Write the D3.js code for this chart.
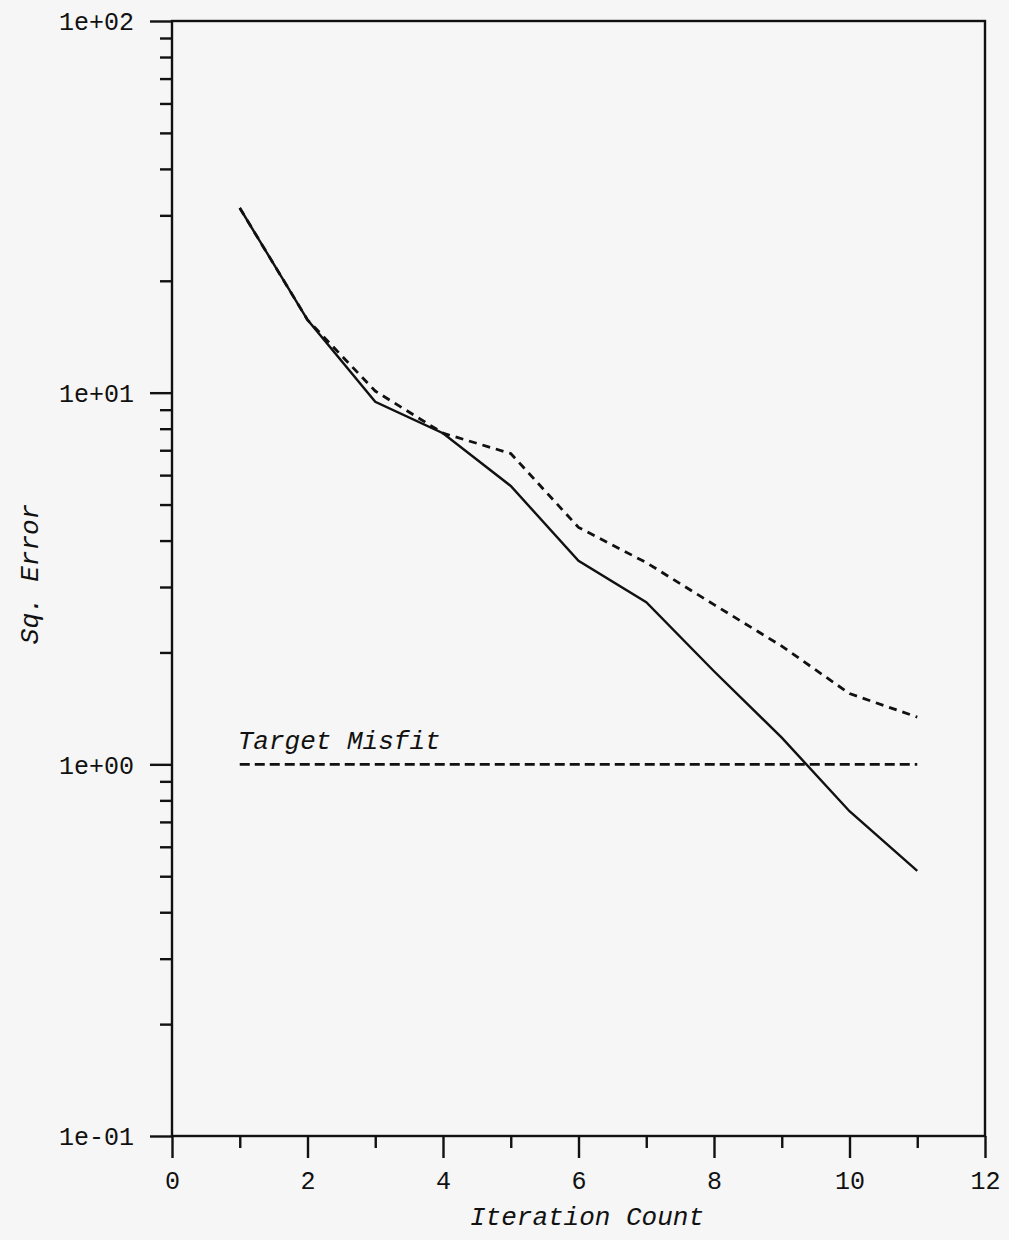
<!DOCTYPE html>
<html>
<head>
<meta charset="utf-8">
<script src="https://cdn.jsdelivr.net/npm/d3@7"></script>
<style>
  body { margin: 0; background: #f5f6f5; }
  svg text { font-family: "Liberation Mono", "Courier New", monospace; fill: #111; }
</style>
</head>
<body>
<div id="chart"></div>
<script>
// data
const iterations = [1, 2, 3, 4, 5, 6, 7, 8, 9, 10, 11];
const solidError = [31.4, 15.7, 9.45, 7.78, 5.61, 3.53, 2.73, 1.78, 1.18, 0.748, 0.517];
const dashedError = [31.4, 15.7, 10.1, 7.78, 6.86, 4.34, 3.49, 2.69, 2.08, 1.55, 1.34];
const targetMisfit = 1;
const targetRange = [1, 11];
const xTicks = [0, 2, 4, 6, 8, 10, 12];
const xMinorTicks = [1, 3, 5, 7, 9, 11];
const yTicks = [0.1, 1, 10, 100];
const yTickLabels = ['1e-01', '1e+00', '1e+01', '1e+02'];

const width = 1009, height = 1240;
const margin = [21, 104, 172, 24]; // top, bottom, left, right

const svg = d3.select('#chart').append('svg')
    .attr('width', width)
    .attr('height', height);

const xScale = d3.scaleLinear()
    .domain([0, 12])
    .range([margin[2], width - margin[3]]);

const yScale = d3.scaleLog()
    .domain([0.1, 100])
    .range([height - margin[1], margin[0]]);

// minor log ticks 2..9 in every decade
const yMinorTicks = [];
[0.1, 1, 10].forEach(d => {
    for (let k = 2; k <= 9; k++) yMinorTicks.push(d * k);
});

const ink = '#111';

// frame
svg.append('rect')
    .attr('x', xScale(0)).attr('y', yScale(100))
    .attr('width', xScale(12) - xScale(0))
    .attr('height', yScale(0.1) - yScale(100))
    .attr('fill', 'none').attr('stroke', ink).attr('stroke-width', 2.4);

// x axis: major ticks labelled, minor ticks short
svg.append('g')
    .attr('transform', `translate(0,${yScale(0.1)})`)
    .call(d3.axisBottom(xScale).tickValues(xTicks).tickSize(22).tickPadding(13).tickFormat(d3.format('d')));
svg.append('g')
    .attr('transform', `translate(0,${yScale(0.1)})`)
    .call(d3.axisBottom(xScale).tickValues(xMinorTicks).tickSize(12).tickFormat(''));

// y axis
const yAxis = svg.append('g')
    .attr('transform', `translate(${xScale(0)},0)`)
    .call(d3.axisLeft(yScale).tickValues(yTicks).tickSize(22).tickPadding(16)
        .tickFormat((d, i) => yTickLabels[i]));
svg.append('g')
    .attr('transform', `translate(${xScale(0)},0)`)
    .call(d3.axisLeft(yScale).tickValues(yMinorTicks).tickSize(12).tickFormat(''));

svg.selectAll('.domain').remove();
svg.selectAll('.tick line').attr('stroke', ink).attr('stroke-width', 2.4);
svg.selectAll('.tick text').style('font-size', '25px').attr('fill', ink);
yAxis.selectAll('.tick text').attr('dy', '0.35em');

// axis titles
svg.append('text')
    .attr('x', 587).attr('y', 1225)
    .attr('text-anchor', 'middle')
    .style('font-size', '26px').style('font-style', 'italic')
    .text('Iteration Count');

svg.append('text')
    .attr('transform', `translate(38,574)rotate(-90)`)
    .attr('text-anchor', 'middle')
    .style('font-size', '26px').style('font-style', 'italic')
    .text('Sq. Error');

// lines
const line = d3.line()
    .x(d => xScale(d[0]))
    .y(d => yScale(d[1]));

svg.append('path')
    .datum(iterations.map((x, i) => [x, dashedError[i]]))
    .attr('d', line)
    .attr('fill', 'none').attr('stroke', ink).attr('stroke-width', 2.8)
    .attr('stroke-dasharray', '8,6');

svg.append('path')
    .datum(iterations.map((x, i) => [x, solidError[i]]))
    .attr('d', line)
    .attr('fill', 'none').attr('stroke', ink).attr('stroke-width', 2.4);

// target misfit
svg.append('path')
    .datum(targetRange.map(x => [x, targetMisfit]))
    .attr('d', line)
    .attr('fill', 'none').attr('stroke', ink).attr('stroke-width', 2.8)
    .attr('stroke-dasharray', '10,5');

svg.append('text')
    .attr('x', xScale(targetRange[0]) - 2)
    .attr('y', yScale(targetMisfit) - 15)
    .style('font-size', '26px').style('font-style', 'italic')
    .text('Target Misfit');
</script>
</body>
</html>
